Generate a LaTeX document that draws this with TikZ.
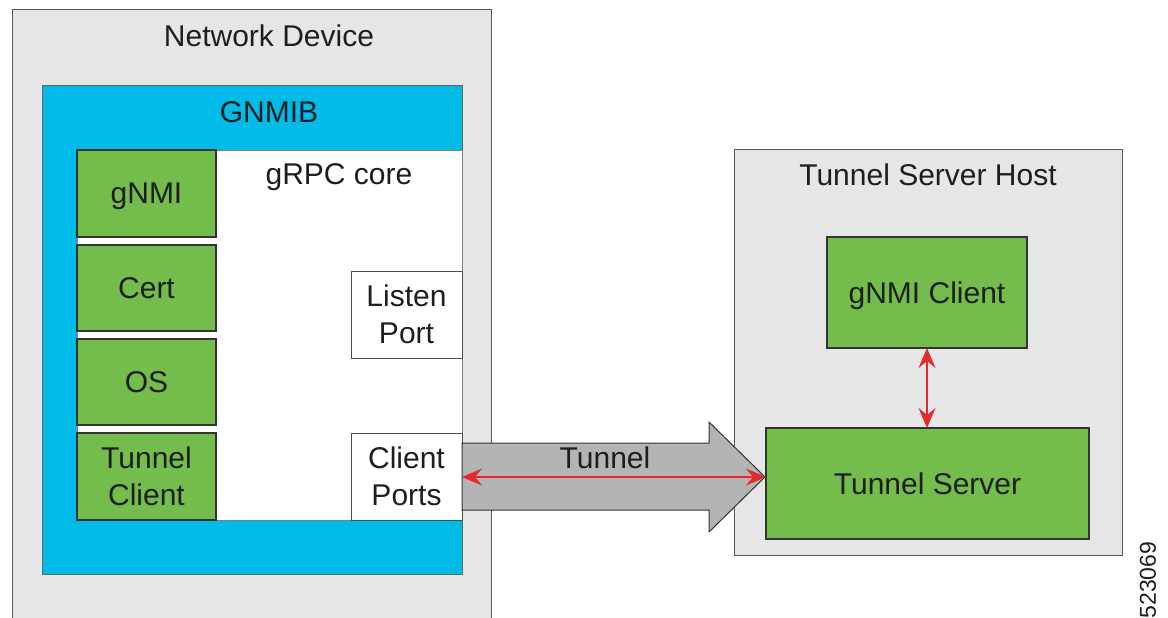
\documentclass[tikz,border=0pt]{standalone}
\usepackage{fontspec}
\setmainfont{Liberation Sans}
\usetikzlibrary{arrows.meta}
\definecolor{lgray}{HTML}{E6E6E6}
\definecolor{gblue}{HTML}{00BBE8}
\definecolor{ggreen}{HTML}{74BC4B}
\definecolor{agray}{HTML}{B4B4B4}
\definecolor{ared}{HTML}{E52A2A}
\definecolor{txt}{HTML}{1E1E1E}
\tikzset{
  base box/.style={inner sep=0pt, outer sep=0pt, text=txt, align=center,
    font=\fontsize{30}{37}\selectfont, text depth=0pt},
  container/.style={base box, draw=black!65, line width=1pt, fill=lgray},
  comp/.style={base box, draw=black!80, line width=1.3pt, fill=ggreen},
  portbox/.style={base box, draw=black!70, line width=1pt, fill=white},
  title/.style={inner sep=0pt, text=txt, font=\fontsize{30}{37}\selectfont, anchor=base},
  redarrow/.style={draw=ared, line width=1.4pt,
    {Stealth[length=20pt,width=17pt,inset=7pt]}-{Stealth[length=20pt,width=17pt,inset=7pt]}},
}
\begin{document}
\begin{tikzpicture}[x=1pt,y=-1pt]
\useasboundingbox (0,0) rectangle (1168,618);
% Network device
\node[container, minimum width=479pt, minimum height=620pt] (nd) at (251.5,320) {};
\node[title] (ndt) at (269,47) {Network Device};
% GNMIB
\node[base box, draw=black!60, line width=1pt, fill=gblue, minimum width=420pt, minimum height=488pt] (gnmib) at (252,330) {};
\node[title] (gnmibt) at (269,122) {GNMIB};
% gRPC core
\node[base box, draw=black!50, line width=0.8pt, fill=white, minimum width=385pt, minimum height=370pt] (core) at (269.5,335) {};
\node[title] (coret) at (339,184) {gRPC core};
% green components
\node[comp, minimum width=139pt, minimum height=87pt] (gnmi) at (146.5,193.5) {gNMI};
\node[comp, minimum width=139pt, minimum height=86pt] (cert) at (146.5,288) {Cert};
\node[comp, minimum width=139pt, minimum height=86pt] (os) at (146.5,382) {OS};
\node[comp, minimum width=139pt, minimum height=87pt] (tclient) at (146.5,476.5) {Tunnel\\Client};
% ports
\node[portbox, minimum width=111pt, minimum height=87pt] (listen) at (406.5,314.5) {Listen\\Port};
\node[portbox, minimum width=111pt, minimum height=87pt] (cports) at (406.5,476.5) {Client\\Ports};
% Tunnel server host
\node[container, minimum width=388pt, minimum height=406pt] (tsh) at (928,352) {};
\node[title] (tsht) at (928,185) {Tunnel Server Host};
\node[comp, minimum width=200pt, minimum height=111pt] (gclient) at (927,292.5) {gNMI Client};
\node[comp, minimum width=323pt, minimum height=111pt] (tserver) at (927.5,483.5) {Tunnel Server};
% big tunnel arrow
\draw[draw=black!80, line width=1pt, fill=agray]
  (462,443) -- (709,443) -- (709,422) -- (765,477) -- (709,532) -- (709,510) -- (462,510) -- cycle;
\node[title] (tunt) at (605,468) {Tunnel};
% red arrows
\draw[redarrow] (cports.east |- 0,477) -- (tserver.west |- 0,477);
\draw[redarrow] (gclient.south) -- (gclient.south |- tserver.north);
% figure id
\node[rotate=90, inner sep=0pt, text=txt, font=\fontsize{23}{26}\selectfont] (figid) at (1148,580) {523069};
\end{tikzpicture}
\end{document}
